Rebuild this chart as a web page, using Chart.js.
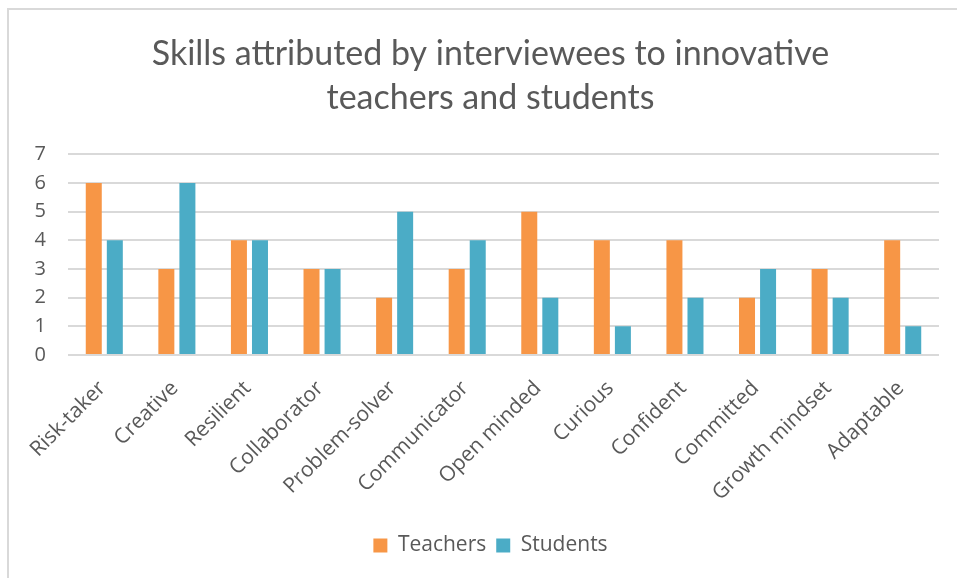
<!DOCTYPE html>
<html>
<head>
<meta charset="utf-8">
<script src="https://cdn.jsdelivr.net/npm/chart.js@4"></script>
<style>
  html, body { margin: 0; padding: 0; background: #fff; }
  #wrap { width: 957px; height: 578px; position: relative; }
</style>
</head>
<body>
<div id="wrap"><canvas id="skillsChart" width="957" height="578"></canvas></div>
<script>
// skills named in the interviews
const skills = [
  "Risk-taker", "Creative", "Resilient", "Collaborator", "Problem-solver",
  "Communicator", "Open minded", "Curious", "Confident", "Committed",
  "Growth mindset", "Adaptable"
];
const teachers = [6, 3, 4, 3, 2, 3, 5, 4, 4, 2, 3, 4];
const students = [4, 6, 4, 3, 5, 4, 2, 1, 2, 3, 2, 1];
const yTicks = [0, 1, 2, 3, 4, 5, 6, 7];

const textGrey = "#595959";
const titleFont = "Lato, 'Open Sans', sans-serif";
const labelFont = "'Open Sans', Lato, sans-serif";

// white background plus the thin outer frame (top and left edges visible)
const framePlugin = {
  id: "frame",
  beforeDraw(chart) {
    const c = chart.ctx;
    c.save();
    c.fillStyle = "#fff";
    c.fillRect(0, 0, chart.width, chart.height);
    c.strokeStyle = "#d9d9d9";
    c.lineWidth = 2;
    c.beginPath();
    c.moveTo(8, chart.height);
    c.lineTo(8, 9);
    c.lineTo(chart.width, 9);
    c.stroke();
    c.restore();
  }
};

// the frame runs past the right edge, so title and legend sit a bit right of centre
const shiftPlugin = {
  id: "shiftHeaders",
  afterLayout(chart) {
    [chart.titleBlock, chart.legend].forEach(b => {
      if (b) { b.left += 21; b.right += 21; }
    });
  }
};

new Chart(document.getElementById("skillsChart"), {
  type: "bar",
  data: {
    labels: skills,
    datasets: [
      {
        label: "Teachers",
        data: teachers,
        backgroundColor: "#F79646",
        categoryPercentage: 0.58,
        barPercentage: 0.76
      },
      {
        label: "Students",
        data: students,
        backgroundColor: "#4BACC6",
        categoryPercentage: 0.58,
        barPercentage: 0.76
      }
    ]
  },
  options: {
    responsive: false,
    animation: false,
    layout: { padding: { left: 0, right: 18, top: 0, bottom: 12 } },
    plugins: {
      title: {
        display: true,
        text: ["Skills attributed by interviewees to innovative", "teachers and students"],
        color: textGrey,
        font: { family: titleFont, size: 34, weight: "normal", lineHeight: 1.3 },
        padding: { top: 32, bottom: 34 }
      },
      legend: {
        position: "bottom",
        labels: {
          color: textGrey,
          font: { family: labelFont, size: 21 },
          boxWidth: 14,
          boxHeight: 14,
          padding: 10
        }
      },
      tooltip: { enabled: false }
    },
    scales: {
      x: {
        grid: { display: false },
        border: { display: false },
        ticks: {
          color: textGrey,
          font: { family: labelFont, size: 21 },
          minRotation: 45,
          maxRotation: 45,
          autoSkip: false,
          padding: 13,
          labelOffset: -2
        },
        afterFit(scale) { scale.height = 170; }
      },
      y: {
        min: 0,
        max: 7,
        afterBuildTicks(scale) { scale.ticks = yTicks.map(v => ({ value: v })); },
        grid: { color: "#d9d9d9", lineWidth: 2, drawTicks: false },
        border: { display: false },
        ticks: {
          color: textGrey,
          font: { family: labelFont, size: 20 },
          padding: 22
        },
        afterFit(scale) { scale.width = 68; }
      }
    }
  },
  plugins: [framePlugin, shiftPlugin]
});
</script>
</body>
</html>
